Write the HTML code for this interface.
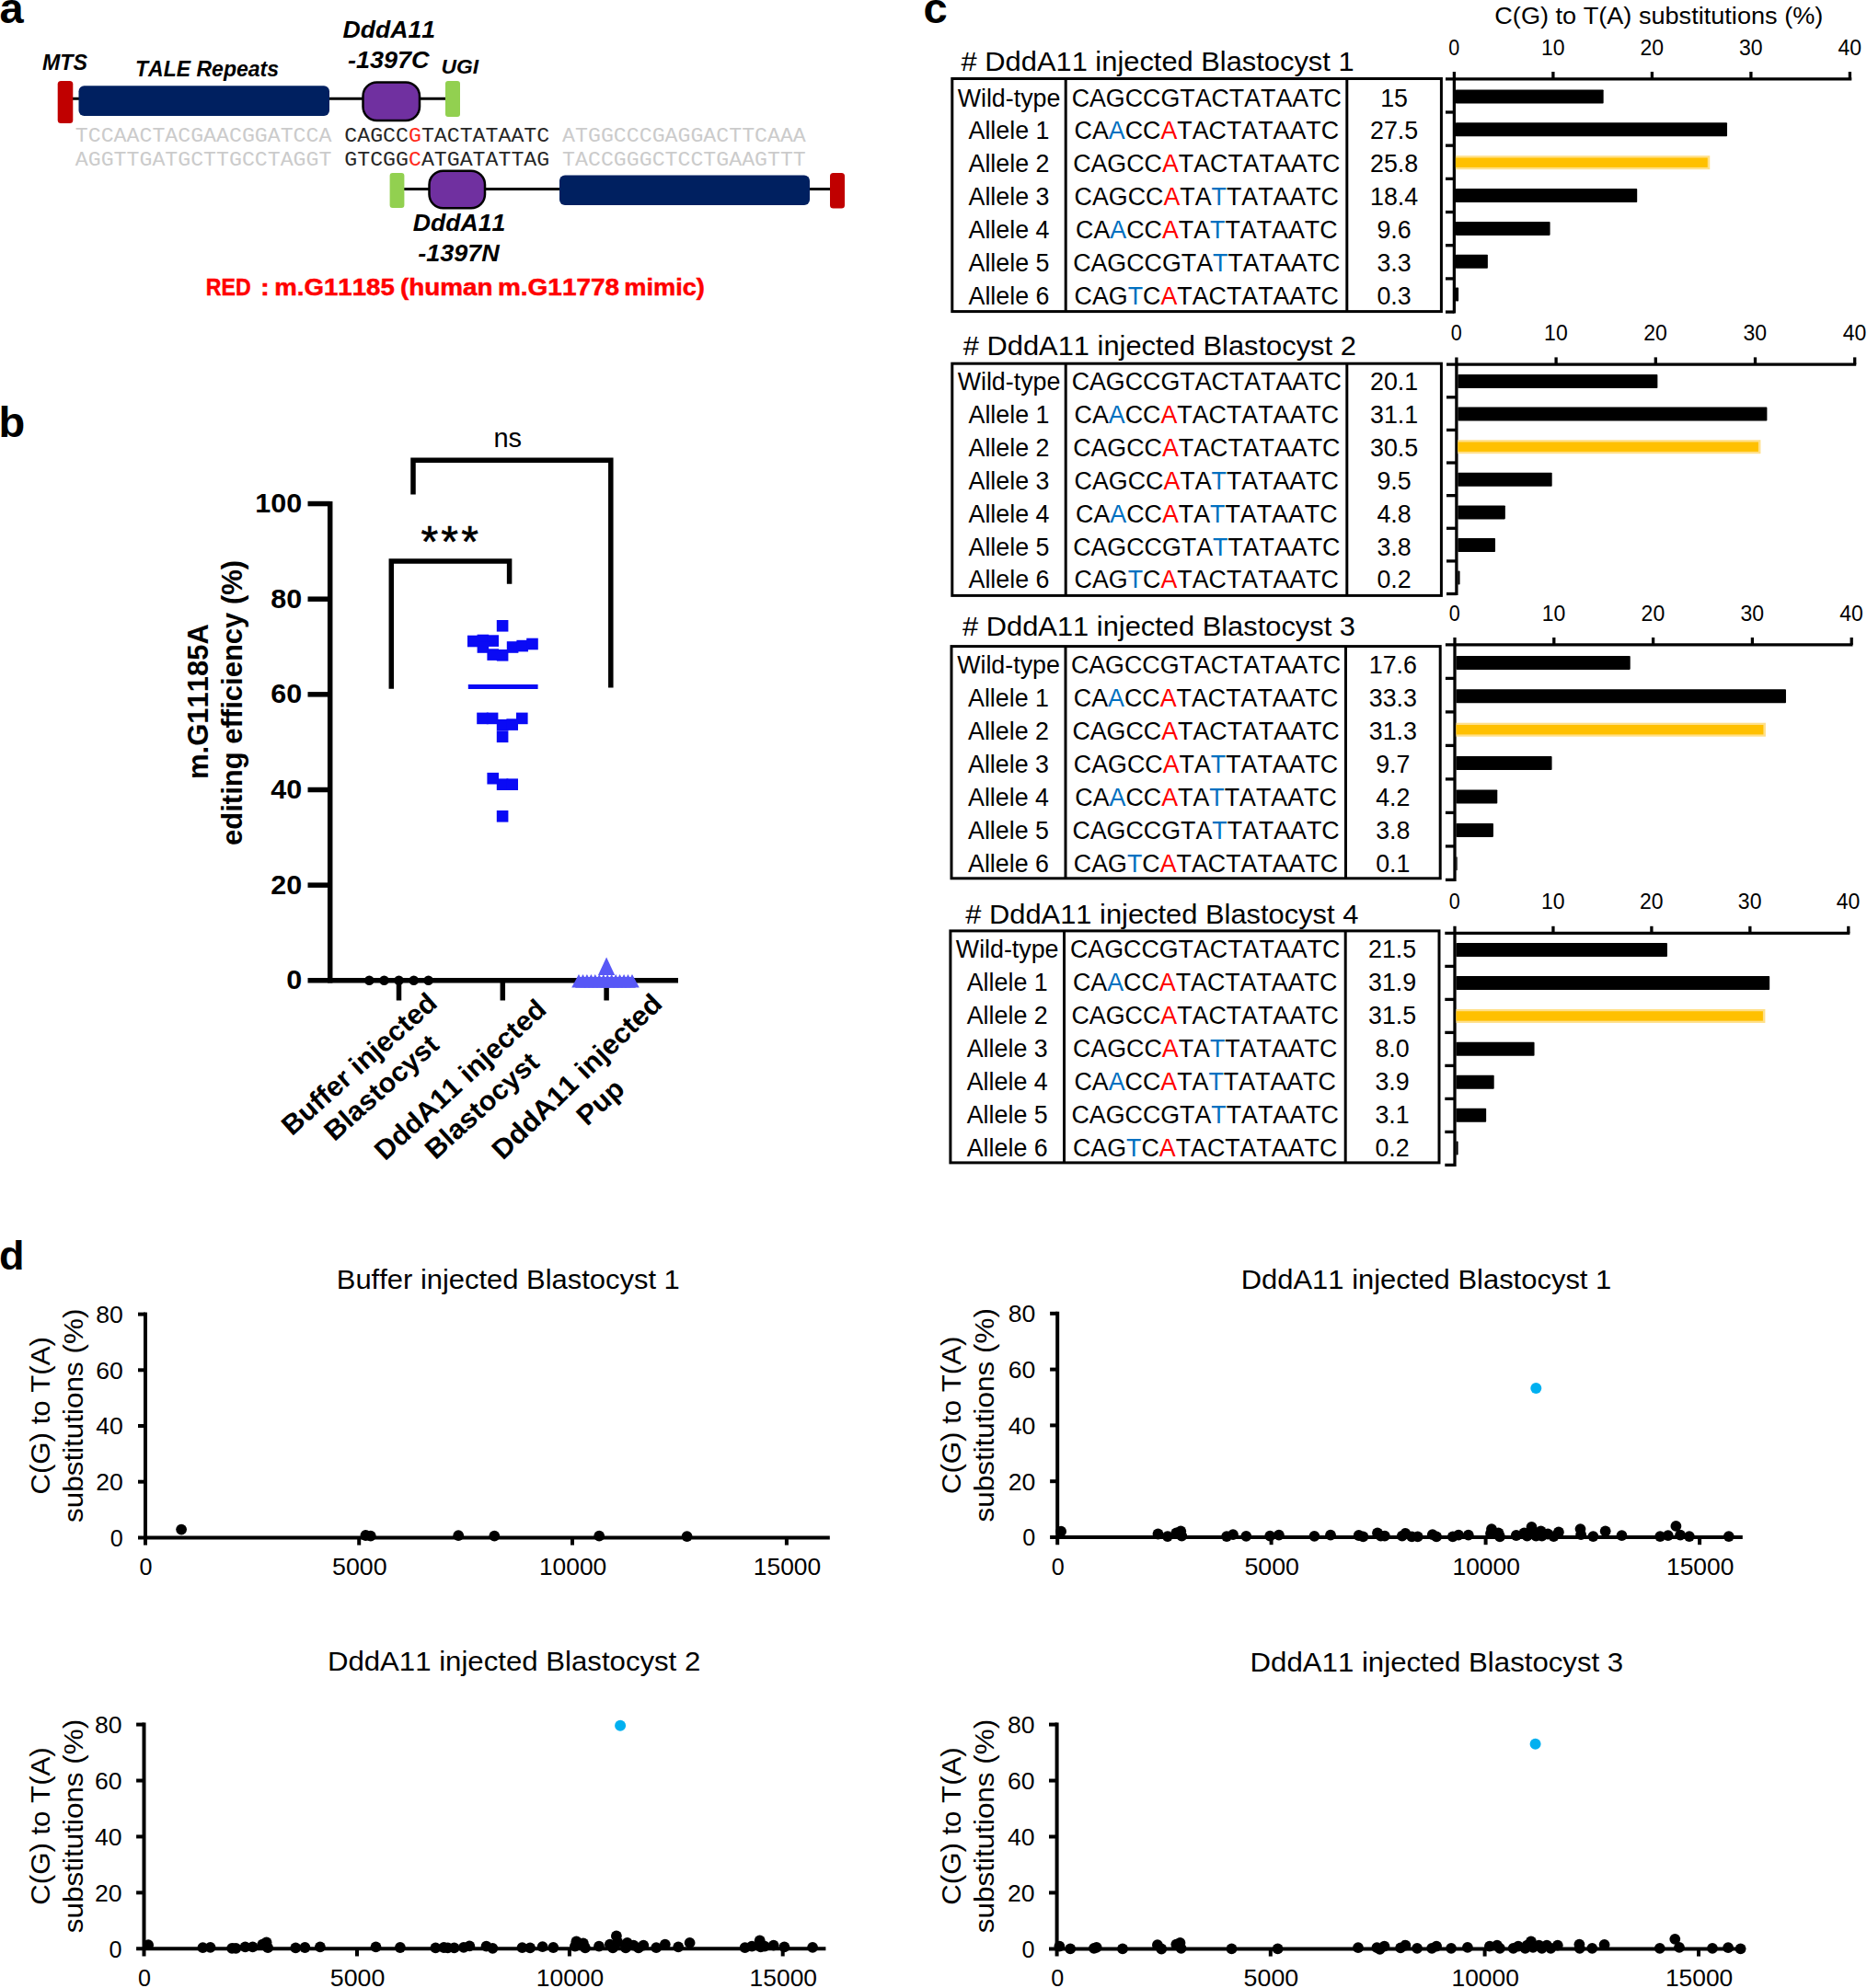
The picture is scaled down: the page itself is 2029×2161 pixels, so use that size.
<!DOCTYPE html>
<html lang="en">
<head>
<meta charset="utf-8">
<title>Figure</title>
<style>
html, body { margin: 0; padding: 0; background: #ffffff; }
svg { display: block; }
text { font-family: "Liberation Sans", sans-serif; font-kerning: none; }
.mono text { font-family: "Liberation Mono", monospace; }
</style>
</head>
<body>
<svg width="2029" height="2161" viewBox="0 0 2029 2161">
<rect x="0" y="0" width="2029" height="2161" fill="#ffffff"/>
<g font-weight="bold" font-size="47">
<text x="-0.50" y="25.20" font-size="47">a</text>
<text x="-1.50" y="475.20" font-size="47">b</text>
<text x="1003.50" y="25.20" font-size="47">c</text>
<text x="-1.00" y="1380.30" font-size="45">d</text>
</g>
<g id="panel-a">
<line x1="79.00" y1="107.20" x2="485.00" y2="107.20" stroke="#000" stroke-width="3.0"/>
<rect x="62.70" y="88.00" width="16.60" height="46.00" fill="#C00000" rx="3.5"/>
<rect x="85.50" y="93.20" width="272.50" height="32.80" fill="#002060" rx="6"/>
<rect x="394.50" y="89.50" width="61.50" height="41.50" fill="#7030A0" rx="15" stroke="#000" stroke-width="2.5"/>
<rect x="484.00" y="88.00" width="16.00" height="39.00" fill="#92D050" rx="3"/>
<line x1="439.00" y1="205.60" x2="903.00" y2="205.60" stroke="#000" stroke-width="3.0"/>
<rect x="423.60" y="188.00" width="15.80" height="38.00" fill="#92D050" rx="3"/>
<rect x="466.50" y="185.80" width="60.50" height="40.50" fill="#7030A0" rx="15" stroke="#000" stroke-width="2.5"/>
<rect x="608.00" y="190.50" width="272.00" height="32.50" fill="#002060" rx="6"/>
<rect x="902.00" y="188.00" width="16.00" height="38.50" fill="#C00000" rx="3.5"/>
<g font-weight="bold" font-style="italic">
<text x="46.00" y="76.10" font-size="23.2">MTS</text>
<text x="147.00" y="83.00" font-size="23.2" textLength="156.00" lengthAdjust="spacingAndGlyphs">TALE Repeats</text>
<text x="422.80" y="40.80" font-size="26.6" text-anchor="middle" textLength="100.50" lengthAdjust="spacingAndGlyphs">DddA11</text>
<text x="422.30" y="74.00" font-size="26.6" text-anchor="middle" textLength="88.50" lengthAdjust="spacingAndGlyphs">-1397C</text>
<text x="479.50" y="79.70" font-size="22.8">UGI</text>
<text x="499.00" y="251.30" font-size="26.6" text-anchor="middle" textLength="100.50" lengthAdjust="spacingAndGlyphs">DddA11</text>
<text x="498.50" y="284.40" font-size="26.6" text-anchor="middle" textLength="88.50" lengthAdjust="spacingAndGlyphs">-1397N</text>
</g>
<g class="mono">
<text x="81.80" y="154.00" font-size="22.6" fill="#cbcbcb" textLength="278.60" lengthAdjust="spacingAndGlyphs">TCCAACTACGAACGGATCCA</text>
<text x="374.33" y="154.00" font-size="22.6" fill="#262626" textLength="222.88" lengthAdjust="spacingAndGlyphs">CAGCC<tspan fill="#ff2a1a">G</tspan>TACTATAATC</text>
<text x="611.14" y="154.00" font-size="22.6" fill="#cbcbcb" textLength="264.67" lengthAdjust="spacingAndGlyphs">ATGGCCCGAGGACTTCAAA</text>
<text x="81.80" y="180.00" font-size="22.6" fill="#cbcbcb" textLength="278.60" lengthAdjust="spacingAndGlyphs">AGGTTGATGCTTGCCTAGGT</text>
<text x="374.33" y="180.00" font-size="22.6" fill="#262626" textLength="222.88" lengthAdjust="spacingAndGlyphs">GTCGG<tspan fill="#ff2a1a">C</tspan>ATGATATTAG</text>
<text x="611.14" y="180.00" font-size="22.6" fill="#cbcbcb" textLength="264.67" lengthAdjust="spacingAndGlyphs">TACCGGGCTCCTGAAGTTT</text>
</g>
<text y="320.8" font-size="25.8" font-weight="bold" fill="#FF0000" stroke="#FF0000" stroke-width="0.5"><tspan x="223.8" textLength="48.8" lengthAdjust="spacingAndGlyphs">RED</tspan> <tspan x="283.0" textLength="9.8" lengthAdjust="spacingAndGlyphs">:</tspan> <tspan x="298.3" textLength="130.5" lengthAdjust="spacingAndGlyphs">m.G11185</tspan> <tspan x="434.9" textLength="100.6" lengthAdjust="spacingAndGlyphs">(human</tspan> <tspan x="541.0" textLength="132.1" lengthAdjust="spacingAndGlyphs">m.G11778</tspan> <tspan x="678.2" textLength="87.7" lengthAdjust="spacingAndGlyphs">mimic)</tspan></text>
</g>
<g id="panel-b">
<line x1="358.70" y1="544.90" x2="358.70" y2="1068.55" stroke="#000" stroke-width="5.5"/>
<line x1="334.50" y1="1065.80" x2="737.00" y2="1065.80" stroke="#000" stroke-width="5.5"/>
<text transform="translate(328.2,1075.40) scale(1.045,1)" font-size="29.2" font-weight="bold" text-anchor="end">0</text>
<line x1="334.50" y1="962.15" x2="358.70" y2="962.15" stroke="#000" stroke-width="5.5"/>
<text transform="translate(328.2,971.75) scale(1.045,1)" font-size="29.2" font-weight="bold" text-anchor="end">20</text>
<line x1="334.50" y1="858.50" x2="358.70" y2="858.50" stroke="#000" stroke-width="5.5"/>
<text transform="translate(328.2,868.10) scale(1.045,1)" font-size="29.2" font-weight="bold" text-anchor="end">40</text>
<line x1="334.50" y1="754.85" x2="358.70" y2="754.85" stroke="#000" stroke-width="5.5"/>
<text transform="translate(328.2,764.45) scale(1.045,1)" font-size="29.2" font-weight="bold" text-anchor="end">60</text>
<line x1="334.50" y1="651.20" x2="358.70" y2="651.20" stroke="#000" stroke-width="5.5"/>
<text transform="translate(328.2,660.80) scale(1.045,1)" font-size="29.2" font-weight="bold" text-anchor="end">80</text>
<line x1="334.50" y1="547.55" x2="358.70" y2="547.55" stroke="#000" stroke-width="5.5"/>
<text transform="translate(328.2,557.15) scale(1.045,1)" font-size="29.2" font-weight="bold" text-anchor="end">100</text>
<line x1="433.50" y1="1065.80" x2="433.50" y2="1087.50" stroke="#000" stroke-width="5.5"/>
<line x1="546.30" y1="1065.80" x2="546.30" y2="1087.50" stroke="#000" stroke-width="5.5"/>
<line x1="659.10" y1="1065.80" x2="659.10" y2="1087.50" stroke="#000" stroke-width="5.5"/>
<path d="M449 537.5 V500.2 H663.8 V747.5" fill="none" stroke="#000" stroke-width="5.5"/>
<path d="M425.3 748.8 V610 H553.6 V634.8" fill="none" stroke="#000" stroke-width="5.5"/>
<text x="551.80" y="485.50" font-size="29" text-anchor="middle">ns</text>
<text x="490.30" y="605.30" font-size="48" text-anchor="middle" letter-spacing="3.2" stroke="#000" stroke-width="0.6">***</text>
<g font-weight="bold">
<text transform="translate(226.2,762.6) rotate(-90)" font-size="31" text-anchor="middle">m.G11185A</text>
<text transform="translate(262.9,763.9) rotate(-90)" font-size="31" text-anchor="middle">editing efficiency (%)</text>
</g>
<g fill="#0a0af5">
<rect x="539.8" y="674.0" width="12.6" height="12.6"/>
<rect x="508.0" y="690.7" width="12.6" height="12.6"/>
<rect x="518.6" y="689.7" width="12.6" height="12.6"/>
<rect x="529.4" y="690.3" width="12.6" height="12.6"/>
<rect x="518.6" y="697.2" width="12.6" height="12.6"/>
<rect x="529.4" y="705.3" width="12.6" height="12.6"/>
<rect x="539.8" y="706.0" width="12.6" height="12.6"/>
<rect x="550.8" y="697.2" width="12.6" height="12.6"/>
<rect x="561.4" y="695.8" width="12.6" height="12.6"/>
<rect x="572.2" y="693.7" width="12.6" height="12.6"/>
<rect x="518.2" y="774.6" width="12.6" height="12.6"/>
<rect x="528.8" y="774.6" width="12.6" height="12.6"/>
<rect x="561.0" y="774.6" width="12.6" height="12.6"/>
<rect x="539.8" y="781.9" width="12.6" height="12.6"/>
<rect x="550.4" y="781.3" width="12.6" height="12.6"/>
<rect x="539.8" y="794.5" width="12.6" height="12.6"/>
<rect x="529.4" y="839.9" width="12.6" height="12.6"/>
<rect x="539.8" y="846.4" width="12.6" height="12.6"/>
<rect x="550.4" y="846.4" width="12.6" height="12.6"/>
<rect x="539.8" y="881.0" width="12.6" height="12.6"/>
</g>
<line x1="508.80" y1="746.50" x2="584.60" y2="746.50" stroke="#0a0af5" stroke-width="5"/>
<circle cx="401.3" cy="1065.8" r="5.3" fill="#000"/>
<circle cx="417.5" cy="1065.8" r="5.3" fill="#000"/>
<circle cx="433.5" cy="1065.8" r="5.3" fill="#000"/>
<circle cx="449.7" cy="1065.8" r="5.3" fill="#000"/>
<circle cx="465.6" cy="1065.8" r="5.3" fill="#000"/>
<g fill="#5858f6">
<path d="M629.0 1059 L636.8 1073.4 L621.2 1073.4 Z"/>
<path d="M633.5 1059 L641.3 1073.4 L625.7 1073.4 Z"/>
<path d="M637.9 1059 L645.7 1073.4 L630.1 1073.4 Z"/>
<path d="M642.4 1059 L650.2 1073.4 L634.6 1073.4 Z"/>
<path d="M646.8 1059 L654.6 1073.4 L639.0 1073.4 Z"/>
<path d="M651.3 1059 L659.1 1073.4 L643.5 1073.4 Z"/>
<path d="M655.8 1059 L663.6 1073.4 L648.0 1073.4 Z"/>
<path d="M660.2 1059 L668.0 1073.4 L652.4 1073.4 Z"/>
<path d="M664.7 1059 L672.5 1073.4 L656.9 1073.4 Z"/>
<path d="M669.2 1059 L677.0 1073.4 L661.4 1073.4 Z"/>
<path d="M673.6 1059 L681.4 1073.4 L665.8 1073.4 Z"/>
<path d="M678.1 1059 L685.9 1073.4 L670.3 1073.4 Z"/>
<path d="M682.5 1059 L690.3 1073.4 L674.7 1073.4 Z"/>
<path d="M687.0 1059 L694.8 1073.4 L679.2 1073.4 Z"/>
<path d="M625 1073.4 L691 1073.4 L688.5 1062 L627.5 1062 Z"/>
<path d="M659.1 1040.4 L668.2 1060 L650.0 1060 Z"/>
</g>
<g font-weight="bold" font-size="30" text-anchor="end">
<text transform="translate(477.0,1092.7) rotate(-41.8) scale(1.02,1)">Buffer injected</text>
<text transform="translate(478.9,1138.3) rotate(-41.8) scale(1.02,1)">Blastocyst</text>
<text transform="translate(595.5,1099.5) rotate(-42.7) scale(1.025,1)">DddA11 injected</text>
<text transform="translate(587.7,1157.3) rotate(-42.3) scale(1.02,1)">Blastocyst</text>
<text transform="translate(721.3,1093.0) rotate(-44.0) scale(1.035,1)">DddA11 injected</text>
<text transform="translate(680.5,1186) rotate(-42.5) scale(1.02,1)">Pup</text>
</g>
</g>
<g id="panel-c">
<text x="1802.80" y="25.90" font-size="25.6" text-anchor="middle" textLength="357.00" lengthAdjust="spacingAndGlyphs">C(G) to T(A) substitutions (%)</text>
<text x="1044.60" y="76.50" font-size="29.8" textLength="427.00" lengthAdjust="spacingAndGlyphs"># DddA11 injected Blastocyst 1</text>
<rect x="1034.80" y="85.50" width="531.60" height="253.10" fill="none" stroke="#000" stroke-width="3"/>
<line x1="1158.20" y1="85.50" x2="1158.20" y2="338.60" stroke="#000" stroke-width="3"/>
<line x1="1463.80" y1="85.50" x2="1463.80" y2="338.60" stroke="#000" stroke-width="3"/>
<text x="1096.50" y="115.50" font-size="26.8" text-anchor="middle">Wild-type</text>
<text x="1311.30" y="115.50" font-size="26.8" text-anchor="middle">CAGCCGTACTATAATC</text>
<text x="1515.10" y="115.50" font-size="26.8" text-anchor="middle">15</text>
<text x="1096.50" y="151.47" font-size="26.8" text-anchor="middle">Allele 1</text>
<text x="1311.30" y="151.47" font-size="26.8" text-anchor="middle">CA<tspan fill="#0070C0">A</tspan>CC<tspan fill="#FF0000">A</tspan>TACTATAATC</text>
<text x="1515.10" y="151.47" font-size="26.8" text-anchor="middle">27.5</text>
<text x="1096.50" y="187.44" font-size="26.8" text-anchor="middle">Allele 2</text>
<text x="1311.30" y="187.44" font-size="26.8" text-anchor="middle">CAGCC<tspan fill="#FF0000">A</tspan>TACTATAATC</text>
<text x="1515.10" y="187.44" font-size="26.8" text-anchor="middle">25.8</text>
<text x="1096.50" y="223.41" font-size="26.8" text-anchor="middle">Allele 3</text>
<text x="1311.30" y="223.41" font-size="26.8" text-anchor="middle">CAGCC<tspan fill="#FF0000">A</tspan>TA<tspan fill="#0070C0">T</tspan>TATAATC</text>
<text x="1515.10" y="223.41" font-size="26.8" text-anchor="middle">18.4</text>
<text x="1096.50" y="259.38" font-size="26.8" text-anchor="middle">Allele 4</text>
<text x="1311.30" y="259.38" font-size="26.8" text-anchor="middle">CA<tspan fill="#0070C0">A</tspan>CC<tspan fill="#FF0000">A</tspan>TA<tspan fill="#0070C0">T</tspan>TATAATC</text>
<text x="1515.10" y="259.38" font-size="26.8" text-anchor="middle">9.6</text>
<text x="1096.50" y="295.35" font-size="26.8" text-anchor="middle">Allele 5</text>
<text x="1311.30" y="295.35" font-size="26.8" text-anchor="middle">CAGCCGTA<tspan fill="#0070C0">T</tspan>TATAATC</text>
<text x="1515.10" y="295.35" font-size="26.8" text-anchor="middle">3.3</text>
<text x="1096.50" y="331.32" font-size="26.8" text-anchor="middle">Allele 6</text>
<text x="1311.30" y="331.32" font-size="26.8" text-anchor="middle">CAG<tspan fill="#0070C0">T</tspan>C<tspan fill="#FF0000">A</tspan>TACTATAATC</text>
<text x="1515.10" y="331.32" font-size="26.8" text-anchor="middle">0.3</text>
<line x1="1571.00" y1="85.80" x2="2012.30" y2="85.80" stroke="#000" stroke-width="3.3"/>
<line x1="1580.40" y1="78.00" x2="1580.40" y2="340.60" stroke="#000" stroke-width="3.3"/>
<line x1="1571.00" y1="121.99" x2="1580.40" y2="121.99" stroke="#000" stroke-width="3.3"/>
<line x1="1571.00" y1="158.17" x2="1580.40" y2="158.17" stroke="#000" stroke-width="3.3"/>
<line x1="1571.00" y1="194.36" x2="1580.40" y2="194.36" stroke="#000" stroke-width="3.3"/>
<line x1="1571.00" y1="230.54" x2="1580.40" y2="230.54" stroke="#000" stroke-width="3.3"/>
<line x1="1571.00" y1="266.73" x2="1580.40" y2="266.73" stroke="#000" stroke-width="3.3"/>
<line x1="1571.00" y1="302.91" x2="1580.40" y2="302.91" stroke="#000" stroke-width="3.3"/>
<line x1="1571.00" y1="339.10" x2="1580.40" y2="339.10" stroke="#000" stroke-width="3.3"/>
<text x="1574.20" y="59.90" font-size="23.4" textLength="12.00" lengthAdjust="spacingAndGlyphs">0</text>
<line x1="1687.90" y1="78.00" x2="1687.90" y2="85.80" stroke="#000" stroke-width="3.3"/>
<text x="1674.90" y="59.90" font-size="23.4" textLength="25.60" lengthAdjust="spacingAndGlyphs">10</text>
<line x1="1795.40" y1="78.00" x2="1795.40" y2="85.80" stroke="#000" stroke-width="3.3"/>
<text x="1782.40" y="59.90" font-size="23.4" textLength="25.60" lengthAdjust="spacingAndGlyphs">20</text>
<line x1="1902.90" y1="78.00" x2="1902.90" y2="85.80" stroke="#000" stroke-width="3.3"/>
<text x="1889.90" y="59.90" font-size="23.4" textLength="25.60" lengthAdjust="spacingAndGlyphs">30</text>
<line x1="2010.40" y1="78.00" x2="2010.40" y2="85.80" stroke="#000" stroke-width="3.3"/>
<text x="1997.40" y="59.90" font-size="23.4" textLength="25.60" lengthAdjust="spacingAndGlyphs">40</text>
<rect x="1581.90" y="97.50" width="160.75" height="15.00" fill="#000" rx="0.8"/>
<rect x="1581.90" y="133.35" width="295.12" height="15.00" fill="#000" rx="0.8"/>
<rect x="1581.90" y="169.20" width="276.35" height="15.00" fill="#FFE08A"/>
<rect x="1581.90" y="171.50" width="273.85" height="10.40" fill="#FFC000"/>
<rect x="1581.90" y="205.05" width="197.30" height="15.00" fill="#000" rx="0.8"/>
<rect x="1581.90" y="240.90" width="102.70" height="15.00" fill="#000" rx="0.8"/>
<rect x="1581.90" y="276.75" width="34.98" height="15.00" fill="#000" rx="0.8"/>
<rect x="1581.90" y="312.60" width="3.23" height="15.00" fill="#000" rx="0.8"/>
<text x="1046.80" y="386.00" font-size="29.8" textLength="427.00" lengthAdjust="spacingAndGlyphs"># DddA11 injected Blastocyst 2</text>
<rect x="1034.80" y="395.20" width="531.60" height="252.20" fill="none" stroke="#000" stroke-width="3"/>
<line x1="1158.20" y1="395.20" x2="1158.20" y2="647.40" stroke="#000" stroke-width="3"/>
<line x1="1463.80" y1="395.20" x2="1463.80" y2="647.40" stroke="#000" stroke-width="3"/>
<text x="1096.50" y="424.20" font-size="26.8" text-anchor="middle">Wild-type</text>
<text x="1311.30" y="424.20" font-size="26.8" text-anchor="middle">CAGCCGTACTATAATC</text>
<text x="1515.10" y="424.20" font-size="26.8" text-anchor="middle">20.1</text>
<text x="1096.50" y="460.07" font-size="26.8" text-anchor="middle">Allele 1</text>
<text x="1311.30" y="460.07" font-size="26.8" text-anchor="middle">CA<tspan fill="#0070C0">A</tspan>CC<tspan fill="#FF0000">A</tspan>TACTATAATC</text>
<text x="1515.10" y="460.07" font-size="26.8" text-anchor="middle">31.1</text>
<text x="1096.50" y="495.94" font-size="26.8" text-anchor="middle">Allele 2</text>
<text x="1311.30" y="495.94" font-size="26.8" text-anchor="middle">CAGCC<tspan fill="#FF0000">A</tspan>TACTATAATC</text>
<text x="1515.10" y="495.94" font-size="26.8" text-anchor="middle">30.5</text>
<text x="1096.50" y="531.81" font-size="26.8" text-anchor="middle">Allele 3</text>
<text x="1311.30" y="531.81" font-size="26.8" text-anchor="middle">CAGCC<tspan fill="#FF0000">A</tspan>TA<tspan fill="#0070C0">T</tspan>TATAATC</text>
<text x="1515.10" y="531.81" font-size="26.8" text-anchor="middle">9.5</text>
<text x="1096.50" y="567.68" font-size="26.8" text-anchor="middle">Allele 4</text>
<text x="1311.30" y="567.68" font-size="26.8" text-anchor="middle">CA<tspan fill="#0070C0">A</tspan>CC<tspan fill="#FF0000">A</tspan>TA<tspan fill="#0070C0">T</tspan>TATAATC</text>
<text x="1515.10" y="567.68" font-size="26.8" text-anchor="middle">4.8</text>
<text x="1096.50" y="603.55" font-size="26.8" text-anchor="middle">Allele 5</text>
<text x="1311.30" y="603.55" font-size="26.8" text-anchor="middle">CAGCCGTA<tspan fill="#0070C0">T</tspan>TATAATC</text>
<text x="1515.10" y="603.55" font-size="26.8" text-anchor="middle">3.8</text>
<text x="1096.50" y="639.42" font-size="26.8" text-anchor="middle">Allele 6</text>
<text x="1311.30" y="639.42" font-size="26.8" text-anchor="middle">CAG<tspan fill="#0070C0">T</tspan>C<tspan fill="#FF0000">A</tspan>TACTATAATC</text>
<text x="1515.10" y="639.42" font-size="26.8" text-anchor="middle">0.2</text>
<line x1="1572.00" y1="396.20" x2="2017.20" y2="396.20" stroke="#000" stroke-width="3.3"/>
<line x1="1582.90" y1="388.40" x2="1582.90" y2="647.00" stroke="#000" stroke-width="3.3"/>
<line x1="1572.00" y1="431.81" x2="1582.90" y2="431.81" stroke="#000" stroke-width="3.3"/>
<line x1="1572.00" y1="467.43" x2="1582.90" y2="467.43" stroke="#000" stroke-width="3.3"/>
<line x1="1572.00" y1="503.04" x2="1582.90" y2="503.04" stroke="#000" stroke-width="3.3"/>
<line x1="1572.00" y1="538.66" x2="1582.90" y2="538.66" stroke="#000" stroke-width="3.3"/>
<line x1="1572.00" y1="574.27" x2="1582.90" y2="574.27" stroke="#000" stroke-width="3.3"/>
<line x1="1572.00" y1="609.89" x2="1582.90" y2="609.89" stroke="#000" stroke-width="3.3"/>
<line x1="1572.00" y1="645.50" x2="1582.90" y2="645.50" stroke="#000" stroke-width="3.3"/>
<text x="1576.70" y="370.00" font-size="23.4" textLength="12.00" lengthAdjust="spacingAndGlyphs">0</text>
<line x1="1691.10" y1="388.40" x2="1691.10" y2="396.20" stroke="#000" stroke-width="3.3"/>
<text x="1678.10" y="370.00" font-size="23.4" textLength="25.60" lengthAdjust="spacingAndGlyphs">10</text>
<line x1="1799.30" y1="388.40" x2="1799.30" y2="396.20" stroke="#000" stroke-width="3.3"/>
<text x="1786.30" y="370.00" font-size="23.4" textLength="25.60" lengthAdjust="spacingAndGlyphs">20</text>
<line x1="1907.50" y1="388.40" x2="1907.50" y2="396.20" stroke="#000" stroke-width="3.3"/>
<text x="1894.50" y="370.00" font-size="23.4" textLength="25.60" lengthAdjust="spacingAndGlyphs">30</text>
<line x1="2015.70" y1="388.40" x2="2015.70" y2="396.20" stroke="#000" stroke-width="3.3"/>
<text x="2002.70" y="370.00" font-size="23.4" textLength="25.60" lengthAdjust="spacingAndGlyphs">40</text>
<rect x="1584.40" y="407.00" width="216.98" height="15.00" fill="#000" rx="0.8"/>
<rect x="1584.40" y="442.60" width="336.00" height="15.00" fill="#000" rx="0.8"/>
<rect x="1584.40" y="478.20" width="329.01" height="15.00" fill="#FFE08A"/>
<rect x="1584.40" y="480.50" width="326.51" height="10.40" fill="#FFC000"/>
<rect x="1584.40" y="513.80" width="102.29" height="15.00" fill="#000" rx="0.8"/>
<rect x="1584.40" y="549.40" width="51.44" height="15.00" fill="#000" rx="0.8"/>
<rect x="1584.40" y="585.00" width="40.62" height="15.00" fill="#000" rx="0.8"/>
<rect x="1584.40" y="620.60" width="2.16" height="15.00" fill="#000" rx="0.8"/>
<text x="1046.00" y="691.40" font-size="29.8" textLength="427.00" lengthAdjust="spacingAndGlyphs"># DddA11 injected Blastocyst 3</text>
<rect x="1034.00" y="702.60" width="531.20" height="252.20" fill="none" stroke="#000" stroke-width="3"/>
<line x1="1158.00" y1="702.60" x2="1158.00" y2="954.80" stroke="#000" stroke-width="3"/>
<line x1="1462.50" y1="702.60" x2="1462.50" y2="954.80" stroke="#000" stroke-width="3"/>
<text x="1096.00" y="732.20" font-size="26.8" text-anchor="middle">Wild-type</text>
<text x="1310.55" y="732.20" font-size="26.8" text-anchor="middle">CAGCCGTACTATAATC</text>
<text x="1513.85" y="732.20" font-size="26.8" text-anchor="middle">17.6</text>
<text x="1096.00" y="768.10" font-size="26.8" text-anchor="middle">Allele 1</text>
<text x="1310.55" y="768.10" font-size="26.8" text-anchor="middle">CA<tspan fill="#0070C0">A</tspan>CC<tspan fill="#FF0000">A</tspan>TACTATAATC</text>
<text x="1513.85" y="768.10" font-size="26.8" text-anchor="middle">33.3</text>
<text x="1096.00" y="804.00" font-size="26.8" text-anchor="middle">Allele 2</text>
<text x="1310.55" y="804.00" font-size="26.8" text-anchor="middle">CAGCC<tspan fill="#FF0000">A</tspan>TACTATAATC</text>
<text x="1513.85" y="804.00" font-size="26.8" text-anchor="middle">31.3</text>
<text x="1096.00" y="839.90" font-size="26.8" text-anchor="middle">Allele 3</text>
<text x="1310.55" y="839.90" font-size="26.8" text-anchor="middle">CAGCC<tspan fill="#FF0000">A</tspan>TA<tspan fill="#0070C0">T</tspan>TATAATC</text>
<text x="1513.85" y="839.90" font-size="26.8" text-anchor="middle">9.7</text>
<text x="1096.00" y="875.80" font-size="26.8" text-anchor="middle">Allele 4</text>
<text x="1310.55" y="875.80" font-size="26.8" text-anchor="middle">CA<tspan fill="#0070C0">A</tspan>CC<tspan fill="#FF0000">A</tspan>TA<tspan fill="#0070C0">T</tspan>TATAATC</text>
<text x="1513.85" y="875.80" font-size="26.8" text-anchor="middle">4.2</text>
<text x="1096.00" y="911.70" font-size="26.8" text-anchor="middle">Allele 5</text>
<text x="1310.55" y="911.70" font-size="26.8" text-anchor="middle">CAGCCGTA<tspan fill="#0070C0">T</tspan>TATAATC</text>
<text x="1513.85" y="911.70" font-size="26.8" text-anchor="middle">3.8</text>
<text x="1096.00" y="947.60" font-size="26.8" text-anchor="middle">Allele 6</text>
<text x="1310.55" y="947.60" font-size="26.8" text-anchor="middle">CAG<tspan fill="#0070C0">T</tspan>C<tspan fill="#FF0000">A</tspan>TACTATAATC</text>
<text x="1513.85" y="947.60" font-size="26.8" text-anchor="middle">0.1</text>
<line x1="1570.90" y1="700.90" x2="2013.50" y2="700.90" stroke="#000" stroke-width="3.3"/>
<line x1="1581.00" y1="693.00" x2="1581.00" y2="957.90" stroke="#000" stroke-width="3.3"/>
<line x1="1570.90" y1="737.40" x2="1581.00" y2="737.40" stroke="#000" stroke-width="3.3"/>
<line x1="1570.90" y1="773.90" x2="1581.00" y2="773.90" stroke="#000" stroke-width="3.3"/>
<line x1="1570.90" y1="810.40" x2="1581.00" y2="810.40" stroke="#000" stroke-width="3.3"/>
<line x1="1570.90" y1="846.90" x2="1581.00" y2="846.90" stroke="#000" stroke-width="3.3"/>
<line x1="1570.90" y1="883.40" x2="1581.00" y2="883.40" stroke="#000" stroke-width="3.3"/>
<line x1="1570.90" y1="919.90" x2="1581.00" y2="919.90" stroke="#000" stroke-width="3.3"/>
<line x1="1570.90" y1="956.40" x2="1581.00" y2="956.40" stroke="#000" stroke-width="3.3"/>
<text x="1574.80" y="674.60" font-size="23.4" textLength="12.00" lengthAdjust="spacingAndGlyphs">0</text>
<line x1="1688.80" y1="693.00" x2="1688.80" y2="700.90" stroke="#000" stroke-width="3.3"/>
<text x="1675.80" y="674.60" font-size="23.4" textLength="25.60" lengthAdjust="spacingAndGlyphs">10</text>
<line x1="1796.60" y1="693.00" x2="1796.60" y2="700.90" stroke="#000" stroke-width="3.3"/>
<text x="1783.60" y="674.60" font-size="23.4" textLength="25.60" lengthAdjust="spacingAndGlyphs">20</text>
<line x1="1904.40" y1="693.00" x2="1904.40" y2="700.90" stroke="#000" stroke-width="3.3"/>
<text x="1891.40" y="674.60" font-size="23.4" textLength="25.60" lengthAdjust="spacingAndGlyphs">30</text>
<line x1="2012.20" y1="693.00" x2="2012.20" y2="700.90" stroke="#000" stroke-width="3.3"/>
<text x="1999.20" y="674.60" font-size="23.4" textLength="25.60" lengthAdjust="spacingAndGlyphs">40</text>
<rect x="1582.50" y="712.90" width="189.23" height="15.00" fill="#000" rx="0.8"/>
<rect x="1582.50" y="749.30" width="358.47" height="15.00" fill="#000" rx="0.8"/>
<rect x="1582.50" y="785.70" width="336.41" height="15.00" fill="#FFE08A"/>
<rect x="1582.50" y="788.00" width="333.91" height="10.40" fill="#FFC000"/>
<rect x="1582.50" y="822.10" width="104.07" height="15.00" fill="#000" rx="0.8"/>
<rect x="1582.50" y="858.50" width="44.78" height="15.00" fill="#000" rx="0.8"/>
<rect x="1582.50" y="894.90" width="40.46" height="15.00" fill="#000" rx="0.8"/>
<rect x="1582.50" y="931.30" width="1.20" height="15.00" fill="#000" rx="0.8"/>
<text x="1049.30" y="1003.60" font-size="29.8" textLength="427.00" lengthAdjust="spacingAndGlyphs"># DddA11 injected Blastocyst 4</text>
<rect x="1032.90" y="1011.90" width="531.10" height="252.00" fill="none" stroke="#000" stroke-width="3"/>
<line x1="1156.50" y1="1011.90" x2="1156.50" y2="1263.90" stroke="#000" stroke-width="3"/>
<line x1="1462.20" y1="1011.90" x2="1462.20" y2="1263.90" stroke="#000" stroke-width="3"/>
<text x="1094.70" y="1041.20" font-size="26.8" text-anchor="middle">Wild-type</text>
<text x="1309.65" y="1041.20" font-size="26.8" text-anchor="middle">CAGCCGTACTATAATC</text>
<text x="1513.10" y="1041.20" font-size="26.8" text-anchor="middle">21.5</text>
<text x="1094.70" y="1077.10" font-size="26.8" text-anchor="middle">Allele 1</text>
<text x="1309.65" y="1077.10" font-size="26.8" text-anchor="middle">CA<tspan fill="#0070C0">A</tspan>CC<tspan fill="#FF0000">A</tspan>TACTATAATC</text>
<text x="1513.10" y="1077.10" font-size="26.8" text-anchor="middle">31.9</text>
<text x="1094.70" y="1113.00" font-size="26.8" text-anchor="middle">Allele 2</text>
<text x="1309.65" y="1113.00" font-size="26.8" text-anchor="middle">CAGCC<tspan fill="#FF0000">A</tspan>TACTATAATC</text>
<text x="1513.10" y="1113.00" font-size="26.8" text-anchor="middle">31.5</text>
<text x="1094.70" y="1148.90" font-size="26.8" text-anchor="middle">Allele 3</text>
<text x="1309.65" y="1148.90" font-size="26.8" text-anchor="middle">CAGCC<tspan fill="#FF0000">A</tspan>TA<tspan fill="#0070C0">T</tspan>TATAATC</text>
<text x="1513.10" y="1148.90" font-size="26.8" text-anchor="middle">8.0</text>
<text x="1094.70" y="1184.80" font-size="26.8" text-anchor="middle">Allele 4</text>
<text x="1309.65" y="1184.80" font-size="26.8" text-anchor="middle">CA<tspan fill="#0070C0">A</tspan>CC<tspan fill="#FF0000">A</tspan>TA<tspan fill="#0070C0">T</tspan>TATAATC</text>
<text x="1513.10" y="1184.80" font-size="26.8" text-anchor="middle">3.9</text>
<text x="1094.70" y="1220.70" font-size="26.8" text-anchor="middle">Allele 5</text>
<text x="1309.65" y="1220.70" font-size="26.8" text-anchor="middle">CAGCCGTA<tspan fill="#0070C0">T</tspan>TATAATC</text>
<text x="1513.10" y="1220.70" font-size="26.8" text-anchor="middle">3.1</text>
<text x="1094.70" y="1256.60" font-size="26.8" text-anchor="middle">Allele 6</text>
<text x="1309.65" y="1256.60" font-size="26.8" text-anchor="middle">CAG<tspan fill="#0070C0">T</tspan>C<tspan fill="#FF0000">A</tspan>TACTATAATC</text>
<text x="1513.10" y="1256.60" font-size="26.8" text-anchor="middle">0.2</text>
<line x1="1570.30" y1="1014.40" x2="2010.30" y2="1014.40" stroke="#000" stroke-width="3.3"/>
<line x1="1581.00" y1="1006.80" x2="1581.00" y2="1267.90" stroke="#000" stroke-width="3.3"/>
<line x1="1570.30" y1="1050.40" x2="1581.00" y2="1050.40" stroke="#000" stroke-width="3.3"/>
<line x1="1570.30" y1="1086.40" x2="1581.00" y2="1086.40" stroke="#000" stroke-width="3.3"/>
<line x1="1570.30" y1="1122.40" x2="1581.00" y2="1122.40" stroke="#000" stroke-width="3.3"/>
<line x1="1570.30" y1="1158.40" x2="1581.00" y2="1158.40" stroke="#000" stroke-width="3.3"/>
<line x1="1570.30" y1="1194.40" x2="1581.00" y2="1194.40" stroke="#000" stroke-width="3.3"/>
<line x1="1570.30" y1="1230.40" x2="1581.00" y2="1230.40" stroke="#000" stroke-width="3.3"/>
<line x1="1570.30" y1="1266.40" x2="1581.00" y2="1266.40" stroke="#000" stroke-width="3.3"/>
<text x="1574.80" y="987.80" font-size="23.4" textLength="12.00" lengthAdjust="spacingAndGlyphs">0</text>
<line x1="1687.95" y1="1006.80" x2="1687.95" y2="1014.40" stroke="#000" stroke-width="3.3"/>
<text x="1674.95" y="987.80" font-size="23.4" textLength="25.60" lengthAdjust="spacingAndGlyphs">10</text>
<line x1="1794.90" y1="1006.80" x2="1794.90" y2="1014.40" stroke="#000" stroke-width="3.3"/>
<text x="1781.90" y="987.80" font-size="23.4" textLength="25.60" lengthAdjust="spacingAndGlyphs">20</text>
<line x1="1901.85" y1="1006.80" x2="1901.85" y2="1014.40" stroke="#000" stroke-width="3.3"/>
<text x="1888.85" y="987.80" font-size="23.4" textLength="25.60" lengthAdjust="spacingAndGlyphs">30</text>
<line x1="2008.80" y1="1006.80" x2="2008.80" y2="1014.40" stroke="#000" stroke-width="3.3"/>
<text x="1995.80" y="987.80" font-size="23.4" textLength="25.60" lengthAdjust="spacingAndGlyphs">40</text>
<rect x="1582.50" y="1025.10" width="229.44" height="15.00" fill="#000" rx="0.8"/>
<rect x="1582.50" y="1061.02" width="340.67" height="15.00" fill="#000" rx="0.8"/>
<rect x="1582.50" y="1096.94" width="335.89" height="15.00" fill="#FFE08A"/>
<rect x="1582.50" y="1099.24" width="333.39" height="10.40" fill="#FFC000"/>
<rect x="1582.50" y="1132.86" width="85.06" height="15.00" fill="#000" rx="0.8"/>
<rect x="1582.50" y="1168.78" width="41.21" height="15.00" fill="#000" rx="0.8"/>
<rect x="1582.50" y="1204.70" width="32.65" height="15.00" fill="#000" rx="0.8"/>
<rect x="1582.50" y="1240.62" width="2.14" height="15.00" fill="#000" rx="0.8"/>
</g>
<g id="panel-d">
<text x="365.80" y="1400.60" font-size="30" textLength="373.00" lengthAdjust="spacingAndGlyphs">Buffer injected Blastocyst 1</text>
<line x1="158.00" y1="1426.60" x2="158.00" y2="1679.60" stroke="#000" stroke-width="4"/>
<line x1="150.00" y1="1671.40" x2="901.80" y2="1671.40" stroke="#000" stroke-width="4"/>
<text x="119.80" y="1680.80" font-size="26.4" textLength="14.00" lengthAdjust="spacingAndGlyphs">0</text>
<line x1="150.00" y1="1610.70" x2="158.00" y2="1610.70" stroke="#000" stroke-width="4"/>
<text x="104.20" y="1620.10" font-size="26.4" textLength="29.60" lengthAdjust="spacingAndGlyphs">20</text>
<line x1="150.00" y1="1550.00" x2="158.00" y2="1550.00" stroke="#000" stroke-width="4"/>
<text x="104.20" y="1559.40" font-size="26.4" textLength="29.60" lengthAdjust="spacingAndGlyphs">40</text>
<line x1="150.00" y1="1489.30" x2="158.00" y2="1489.30" stroke="#000" stroke-width="4"/>
<text x="104.20" y="1498.70" font-size="26.4" textLength="29.60" lengthAdjust="spacingAndGlyphs">60</text>
<line x1="150.00" y1="1428.60" x2="158.00" y2="1428.60" stroke="#000" stroke-width="4"/>
<text x="104.20" y="1438.00" font-size="26.4" textLength="29.60" lengthAdjust="spacingAndGlyphs">80</text>
<text x="151.60" y="1712.20" font-size="26.4" textLength="14.00" lengthAdjust="spacingAndGlyphs">0</text>
<line x1="390.20" y1="1671.40" x2="390.20" y2="1679.60" stroke="#000" stroke-width="4"/>
<text x="361.00" y="1712.20" font-size="26.4" textLength="59.60" lengthAdjust="spacingAndGlyphs">5000</text>
<line x1="622.00" y1="1671.40" x2="622.00" y2="1679.60" stroke="#000" stroke-width="4"/>
<text x="585.90" y="1712.20" font-size="26.4" textLength="73.40" lengthAdjust="spacingAndGlyphs">10000</text>
<line x1="854.90" y1="1671.40" x2="854.90" y2="1679.60" stroke="#000" stroke-width="4"/>
<text x="818.80" y="1712.20" font-size="26.4" textLength="73.40" lengthAdjust="spacingAndGlyphs">15000</text>
<text transform="translate(54.199999999999996,1538.8) rotate(-90)" font-size="30" text-anchor="middle" textLength="171.5" lengthAdjust="spacingAndGlyphs">C(G) to T(A)</text>
<text transform="translate(90.0,1538.8) rotate(-90)" font-size="30" text-anchor="middle" textLength="232.5" lengthAdjust="spacingAndGlyphs">substitutions (%)</text>
<circle cx="197.1" cy="1662.6" r="5.9" fill="#000"/>
<circle cx="397.4" cy="1669.0" r="5.9" fill="#000"/>
<circle cx="402.8" cy="1669.6" r="5.9" fill="#000"/>
<circle cx="498.2" cy="1669.2" r="5.9" fill="#000"/>
<circle cx="537.3" cy="1669.7" r="5.9" fill="#000"/>
<circle cx="651.2" cy="1669.7" r="5.9" fill="#000"/>
<circle cx="746.6" cy="1670.1" r="5.9" fill="#000"/>
<text x="1348.70" y="1401.30" font-size="30" textLength="402.60" lengthAdjust="spacingAndGlyphs">DddA11 injected Blastocyst 1</text>
<line x1="1149.20" y1="1425.80" x2="1149.20" y2="1679.20" stroke="#000" stroke-width="4"/>
<line x1="1141.10" y1="1671.00" x2="1893.80" y2="1671.00" stroke="#000" stroke-width="4"/>
<text x="1111.30" y="1680.40" font-size="26.4" textLength="14.00" lengthAdjust="spacingAndGlyphs">0</text>
<line x1="1141.10" y1="1610.20" x2="1149.20" y2="1610.20" stroke="#000" stroke-width="4"/>
<text x="1095.70" y="1619.60" font-size="26.4" textLength="29.60" lengthAdjust="spacingAndGlyphs">20</text>
<line x1="1141.10" y1="1549.40" x2="1149.20" y2="1549.40" stroke="#000" stroke-width="4"/>
<text x="1095.70" y="1558.80" font-size="26.4" textLength="29.60" lengthAdjust="spacingAndGlyphs">40</text>
<line x1="1141.10" y1="1488.60" x2="1149.20" y2="1488.60" stroke="#000" stroke-width="4"/>
<text x="1095.70" y="1498.00" font-size="26.4" textLength="29.60" lengthAdjust="spacingAndGlyphs">60</text>
<line x1="1141.10" y1="1427.80" x2="1149.20" y2="1427.80" stroke="#000" stroke-width="4"/>
<text x="1095.70" y="1437.20" font-size="26.4" textLength="29.60" lengthAdjust="spacingAndGlyphs">80</text>
<text x="1142.80" y="1712.00" font-size="26.4" textLength="14.00" lengthAdjust="spacingAndGlyphs">0</text>
<line x1="1381.60" y1="1671.00" x2="1381.60" y2="1679.20" stroke="#000" stroke-width="4"/>
<text x="1352.40" y="1712.00" font-size="26.4" textLength="59.60" lengthAdjust="spacingAndGlyphs">5000</text>
<line x1="1614.60" y1="1671.00" x2="1614.60" y2="1679.20" stroke="#000" stroke-width="4"/>
<text x="1578.50" y="1712.00" font-size="26.4" textLength="73.40" lengthAdjust="spacingAndGlyphs">10000</text>
<line x1="1847.10" y1="1671.00" x2="1847.10" y2="1679.20" stroke="#000" stroke-width="4"/>
<text x="1811.00" y="1712.00" font-size="26.4" textLength="73.40" lengthAdjust="spacingAndGlyphs">15000</text>
<text transform="translate(1043.5,1538.3) rotate(-90)" font-size="30" text-anchor="middle" textLength="171.5" lengthAdjust="spacingAndGlyphs">C(G) to T(A)</text>
<text transform="translate(1079.8,1538.3) rotate(-90)" font-size="30" text-anchor="middle" textLength="232.5" lengthAdjust="spacingAndGlyphs">substitutions (%)</text>
<circle cx="1153.1" cy="1664.7" r="5.9" fill="#000"/>
<circle cx="1258.5" cy="1667.5" r="5.9" fill="#000"/>
<circle cx="1268.8" cy="1670.1" r="5.9" fill="#000"/>
<circle cx="1278.3" cy="1666.4" r="5.9" fill="#000"/>
<circle cx="1283.2" cy="1664.3" r="5.9" fill="#000"/>
<circle cx="1284.3" cy="1669.6" r="5.9" fill="#000"/>
<circle cx="1333.1" cy="1670.1" r="5.9" fill="#000"/>
<circle cx="1340.0" cy="1668.1" r="5.9" fill="#000"/>
<circle cx="1354.3" cy="1669.9" r="5.9" fill="#000"/>
<circle cx="1380.2" cy="1669.6" r="5.9" fill="#000"/>
<circle cx="1389.9" cy="1668.6" r="5.9" fill="#000"/>
<circle cx="1428.4" cy="1669.9" r="5.9" fill="#000"/>
<circle cx="1446.0" cy="1668.6" r="5.9" fill="#000"/>
<circle cx="1476.7" cy="1669.0" r="5.9" fill="#000"/>
<circle cx="1481.4" cy="1670.3" r="5.9" fill="#000"/>
<circle cx="1497.0" cy="1666.4" r="5.9" fill="#000"/>
<circle cx="1500.6" cy="1669.6" r="5.9" fill="#000"/>
<circle cx="1504.9" cy="1669.6" r="5.9" fill="#000"/>
<circle cx="1523.8" cy="1669.6" r="5.9" fill="#000"/>
<circle cx="1527.4" cy="1666.9" r="5.9" fill="#000"/>
<circle cx="1534.3" cy="1670.3" r="5.9" fill="#000"/>
<circle cx="1540.7" cy="1670.3" r="5.9" fill="#000"/>
<circle cx="1556.8" cy="1668.1" r="5.9" fill="#000"/>
<circle cx="1561.1" cy="1670.3" r="5.9" fill="#000"/>
<circle cx="1578.8" cy="1670.3" r="5.9" fill="#000"/>
<circle cx="1585.1" cy="1668.6" r="5.9" fill="#000"/>
<circle cx="1595.8" cy="1668.6" r="5.9" fill="#000"/>
<circle cx="1620.0" cy="1666.9" r="5.9" fill="#000"/>
<circle cx="1621.0" cy="1662.1" r="5.9" fill="#000"/>
<circle cx="1628.5" cy="1666.4" r="5.9" fill="#000"/>
<circle cx="1630.0" cy="1670.3" r="5.9" fill="#000"/>
<circle cx="1647.8" cy="1669.0" r="5.9" fill="#000"/>
<circle cx="1656.4" cy="1666.4" r="5.9" fill="#000"/>
<circle cx="1659.6" cy="1669.6" r="5.9" fill="#000"/>
<circle cx="1664.5" cy="1660.0" r="5.9" fill="#000"/>
<circle cx="1665.0" cy="1665.4" r="5.9" fill="#000"/>
<circle cx="1669.3" cy="1669.6" r="5.9" fill="#000"/>
<circle cx="1674.6" cy="1664.3" r="5.9" fill="#000"/>
<circle cx="1675.7" cy="1669.6" r="5.9" fill="#000"/>
<circle cx="1682.1" cy="1667.5" r="5.9" fill="#000"/>
<circle cx="1688.5" cy="1670.1" r="5.9" fill="#000"/>
<circle cx="1693.9" cy="1665.4" r="5.9" fill="#000"/>
<circle cx="1717.5" cy="1662.1" r="5.9" fill="#000"/>
<circle cx="1718.1" cy="1668.1" r="5.9" fill="#000"/>
<circle cx="1731.4" cy="1670.1" r="5.9" fill="#000"/>
<circle cx="1744.7" cy="1664.3" r="5.9" fill="#000"/>
<circle cx="1762.5" cy="1669.2" r="5.9" fill="#000"/>
<circle cx="1804.2" cy="1670.1" r="5.9" fill="#000"/>
<circle cx="1812.8" cy="1669.2" r="5.9" fill="#000"/>
<circle cx="1821.4" cy="1658.9" r="5.9" fill="#000"/>
<circle cx="1826.1" cy="1668.6" r="5.9" fill="#000"/>
<circle cx="1835.9" cy="1670.1" r="5.9" fill="#000"/>
<circle cx="1878.8" cy="1670.1" r="5.9" fill="#000"/>
<circle cx="1669.3" cy="1508.9" r="6.0" fill="#00B0F0"/>
<text x="355.90" y="1815.60" font-size="30" textLength="405.40" lengthAdjust="spacingAndGlyphs">DddA11 injected Blastocyst 2</text>
<line x1="156.50" y1="1872.60" x2="156.50" y2="2126.50" stroke="#000" stroke-width="4"/>
<line x1="148.10" y1="2118.30" x2="897.40" y2="2118.30" stroke="#000" stroke-width="4"/>
<text x="118.60" y="2127.70" font-size="26.4" textLength="14.00" lengthAdjust="spacingAndGlyphs">0</text>
<line x1="148.10" y1="2057.38" x2="156.50" y2="2057.38" stroke="#000" stroke-width="4"/>
<text x="103.00" y="2066.78" font-size="26.4" textLength="29.60" lengthAdjust="spacingAndGlyphs">20</text>
<line x1="148.10" y1="1996.45" x2="156.50" y2="1996.45" stroke="#000" stroke-width="4"/>
<text x="103.00" y="2005.85" font-size="26.4" textLength="29.60" lengthAdjust="spacingAndGlyphs">40</text>
<line x1="148.10" y1="1935.53" x2="156.50" y2="1935.53" stroke="#000" stroke-width="4"/>
<text x="103.00" y="1944.93" font-size="26.4" textLength="29.60" lengthAdjust="spacingAndGlyphs">60</text>
<line x1="148.10" y1="1874.60" x2="156.50" y2="1874.60" stroke="#000" stroke-width="4"/>
<text x="103.00" y="1884.00" font-size="26.4" textLength="29.60" lengthAdjust="spacingAndGlyphs">80</text>
<text x="150.10" y="2158.50" font-size="26.4" textLength="14.00" lengthAdjust="spacingAndGlyphs">0</text>
<line x1="388.00" y1="2118.30" x2="388.00" y2="2126.50" stroke="#000" stroke-width="4"/>
<text x="358.80" y="2158.50" font-size="26.4" textLength="59.60" lengthAdjust="spacingAndGlyphs">5000</text>
<line x1="618.90" y1="2118.30" x2="618.90" y2="2126.50" stroke="#000" stroke-width="4"/>
<text x="582.80" y="2158.50" font-size="26.4" textLength="73.40" lengthAdjust="spacingAndGlyphs">10000</text>
<line x1="850.70" y1="2118.30" x2="850.70" y2="2126.50" stroke="#000" stroke-width="4"/>
<text x="814.60" y="2158.50" font-size="26.4" textLength="73.40" lengthAdjust="spacingAndGlyphs">15000</text>
<text transform="translate(54.199999999999996,1985.0) rotate(-90)" font-size="30" text-anchor="middle" textLength="171.5" lengthAdjust="spacingAndGlyphs">C(G) to T(A)</text>
<text transform="translate(90.0,1985.0) rotate(-90)" font-size="30" text-anchor="middle" textLength="232.5" lengthAdjust="spacingAndGlyphs">substitutions (%)</text>
<circle cx="161.1" cy="2114.2" r="5.9" fill="#000"/>
<circle cx="220.4" cy="2117.2" r="5.9" fill="#000"/>
<circle cx="228.6" cy="2116.8" r="5.9" fill="#000"/>
<circle cx="252.1" cy="2117.8" r="5.9" fill="#000"/>
<circle cx="256.4" cy="2117.8" r="5.9" fill="#000"/>
<circle cx="266.5" cy="2116.3" r="5.9" fill="#000"/>
<circle cx="274.6" cy="2116.3" r="5.9" fill="#000"/>
<circle cx="285.3" cy="2113.6" r="5.9" fill="#000"/>
<circle cx="289.6" cy="2111.4" r="5.9" fill="#000"/>
<circle cx="291.1" cy="2117.2" r="5.9" fill="#000"/>
<circle cx="321.3" cy="2117.4" r="5.9" fill="#000"/>
<circle cx="331.4" cy="2117.0" r="5.9" fill="#000"/>
<circle cx="347.9" cy="2116.3" r="5.9" fill="#000"/>
<circle cx="408.5" cy="2116.3" r="5.9" fill="#000"/>
<circle cx="434.9" cy="2117.0" r="5.9" fill="#000"/>
<circle cx="473.4" cy="2117.4" r="5.9" fill="#000"/>
<circle cx="482.4" cy="2117.0" r="5.9" fill="#000"/>
<circle cx="486.7" cy="2117.4" r="5.9" fill="#000"/>
<circle cx="493.6" cy="2117.4" r="5.9" fill="#000"/>
<circle cx="503.9" cy="2116.8" r="5.9" fill="#000"/>
<circle cx="510.3" cy="2115.3" r="5.9" fill="#000"/>
<circle cx="528.5" cy="2115.7" r="5.9" fill="#000"/>
<circle cx="535.4" cy="2117.8" r="5.9" fill="#000"/>
<circle cx="567.5" cy="2117.2" r="5.9" fill="#000"/>
<circle cx="576.1" cy="2117.4" r="5.9" fill="#000"/>
<circle cx="589.6" cy="2116.1" r="5.9" fill="#000"/>
<circle cx="601.3" cy="2117.0" r="5.9" fill="#000"/>
<circle cx="626.4" cy="2110.4" r="5.9" fill="#000"/>
<circle cx="624.9" cy="2115.7" r="5.9" fill="#000"/>
<circle cx="633.9" cy="2112.5" r="5.9" fill="#000"/>
<circle cx="636.0" cy="2117.4" r="5.9" fill="#000"/>
<circle cx="651.0" cy="2115.7" r="5.9" fill="#000"/>
<circle cx="662.8" cy="2113.6" r="5.9" fill="#000"/>
<circle cx="666.0" cy="2117.4" r="5.9" fill="#000"/>
<circle cx="669.9" cy="2104.4" r="5.9" fill="#000"/>
<circle cx="671.4" cy="2111.4" r="5.9" fill="#000"/>
<circle cx="680.0" cy="2117.4" r="5.9" fill="#000"/>
<circle cx="681.7" cy="2111.9" r="5.9" fill="#000"/>
<circle cx="688.5" cy="2114.6" r="5.9" fill="#000"/>
<circle cx="693.9" cy="2117.4" r="5.9" fill="#000"/>
<circle cx="699.3" cy="2114.6" r="5.9" fill="#000"/>
<circle cx="713.2" cy="2117.2" r="5.9" fill="#000"/>
<circle cx="722.8" cy="2113.6" r="5.9" fill="#000"/>
<circle cx="737.2" cy="2116.3" r="5.9" fill="#000"/>
<circle cx="749.6" cy="2111.9" r="5.9" fill="#000"/>
<circle cx="809.6" cy="2117.2" r="5.9" fill="#000"/>
<circle cx="817.1" cy="2115.7" r="5.9" fill="#000"/>
<circle cx="825.7" cy="2109.3" r="5.9" fill="#000"/>
<circle cx="826.7" cy="2116.3" r="5.9" fill="#000"/>
<circle cx="831.0" cy="2115.7" r="5.9" fill="#000"/>
<circle cx="840.7" cy="2114.6" r="5.9" fill="#000"/>
<circle cx="852.4" cy="2116.3" r="5.9" fill="#000"/>
<circle cx="883.1" cy="2116.8" r="5.9" fill="#000"/>
<circle cx="674.1" cy="1875.8" r="6.0" fill="#00B0F0"/>
<text x="1358.60" y="1816.60" font-size="30" textLength="405.60" lengthAdjust="spacingAndGlyphs">DddA11 injected Blastocyst 3</text>
<line x1="1148.60" y1="1872.60" x2="1148.60" y2="2126.60" stroke="#000" stroke-width="4"/>
<line x1="1140.00" y1="2118.40" x2="1897.00" y2="2118.40" stroke="#000" stroke-width="4"/>
<text x="1110.50" y="2127.80" font-size="26.4" textLength="14.00" lengthAdjust="spacingAndGlyphs">0</text>
<line x1="1140.00" y1="2057.45" x2="1148.60" y2="2057.45" stroke="#000" stroke-width="4"/>
<text x="1094.90" y="2066.85" font-size="26.4" textLength="29.60" lengthAdjust="spacingAndGlyphs">20</text>
<line x1="1140.00" y1="1996.50" x2="1148.60" y2="1996.50" stroke="#000" stroke-width="4"/>
<text x="1094.90" y="2005.90" font-size="26.4" textLength="29.60" lengthAdjust="spacingAndGlyphs">40</text>
<line x1="1140.00" y1="1935.55" x2="1148.60" y2="1935.55" stroke="#000" stroke-width="4"/>
<text x="1094.90" y="1944.95" font-size="26.4" textLength="29.60" lengthAdjust="spacingAndGlyphs">60</text>
<line x1="1140.00" y1="1874.60" x2="1148.60" y2="1874.60" stroke="#000" stroke-width="4"/>
<text x="1094.90" y="1884.00" font-size="26.4" textLength="29.60" lengthAdjust="spacingAndGlyphs">80</text>
<text x="1142.20" y="2158.50" font-size="26.4" textLength="14.00" lengthAdjust="spacingAndGlyphs">0</text>
<line x1="1380.80" y1="2118.40" x2="1380.80" y2="2126.60" stroke="#000" stroke-width="4"/>
<text x="1351.60" y="2158.50" font-size="26.4" textLength="59.60" lengthAdjust="spacingAndGlyphs">5000</text>
<line x1="1613.60" y1="2118.40" x2="1613.60" y2="2126.60" stroke="#000" stroke-width="4"/>
<text x="1577.50" y="2158.50" font-size="26.4" textLength="73.40" lengthAdjust="spacingAndGlyphs">10000</text>
<line x1="1846.00" y1="2118.40" x2="1846.00" y2="2126.60" stroke="#000" stroke-width="4"/>
<text x="1809.90" y="2158.50" font-size="26.4" textLength="73.40" lengthAdjust="spacingAndGlyphs">15000</text>
<text transform="translate(1043.5,1985.0) rotate(-90)" font-size="30" text-anchor="middle" textLength="171.5" lengthAdjust="spacingAndGlyphs">C(G) to T(A)</text>
<text transform="translate(1079.8,1985.0) rotate(-90)" font-size="30" text-anchor="middle" textLength="232.5" lengthAdjust="spacingAndGlyphs">substitutions (%)</text>
<circle cx="1151.4" cy="2115.7" r="5.9" fill="#000"/>
<circle cx="1163.2" cy="2118.3" r="5.9" fill="#000"/>
<circle cx="1188.9" cy="2117.8" r="5.9" fill="#000"/>
<circle cx="1191.7" cy="2116.8" r="5.9" fill="#000"/>
<circle cx="1220.0" cy="2118.3" r="5.9" fill="#000"/>
<circle cx="1257.9" cy="2114.2" r="5.9" fill="#000"/>
<circle cx="1262.2" cy="2118.5" r="5.9" fill="#000"/>
<circle cx="1278.3" cy="2113.6" r="5.9" fill="#000"/>
<circle cx="1282.5" cy="2111.9" r="5.9" fill="#000"/>
<circle cx="1283.6" cy="2117.8" r="5.9" fill="#000"/>
<circle cx="1338.5" cy="2118.3" r="5.9" fill="#000"/>
<circle cx="1388.6" cy="2118.3" r="5.9" fill="#000"/>
<circle cx="1476.0" cy="2117.2" r="5.9" fill="#000"/>
<circle cx="1496.4" cy="2117.2" r="5.9" fill="#000"/>
<circle cx="1499.6" cy="2118.9" r="5.9" fill="#000"/>
<circle cx="1504.5" cy="2115.7" r="5.9" fill="#000"/>
<circle cx="1522.1" cy="2117.4" r="5.9" fill="#000"/>
<circle cx="1527.4" cy="2114.6" r="5.9" fill="#000"/>
<circle cx="1540.1" cy="2117.8" r="5.9" fill="#000"/>
<circle cx="1556.1" cy="2117.8" r="5.9" fill="#000"/>
<circle cx="1561.1" cy="2115.7" r="5.9" fill="#000"/>
<circle cx="1577.1" cy="2117.8" r="5.9" fill="#000"/>
<circle cx="1594.9" cy="2116.8" r="5.9" fill="#000"/>
<circle cx="1618.9" cy="2115.7" r="5.9" fill="#000"/>
<circle cx="1627.0" cy="2114.6" r="5.9" fill="#000"/>
<circle cx="1630.0" cy="2117.8" r="5.9" fill="#000"/>
<circle cx="1644.6" cy="2117.8" r="5.9" fill="#000"/>
<circle cx="1650.0" cy="2115.7" r="5.9" fill="#000"/>
<circle cx="1657.5" cy="2117.8" r="5.9" fill="#000"/>
<circle cx="1659.6" cy="2114.6" r="5.9" fill="#000"/>
<circle cx="1663.9" cy="2110.4" r="5.9" fill="#000"/>
<circle cx="1666.0" cy="2116.8" r="5.9" fill="#000"/>
<circle cx="1672.5" cy="2114.6" r="5.9" fill="#000"/>
<circle cx="1675.7" cy="2117.8" r="5.9" fill="#000"/>
<circle cx="1681.0" cy="2114.6" r="5.9" fill="#000"/>
<circle cx="1685.3" cy="2117.8" r="5.9" fill="#000"/>
<circle cx="1692.8" cy="2114.6" r="5.9" fill="#000"/>
<circle cx="1716.4" cy="2113.6" r="5.9" fill="#000"/>
<circle cx="1716.8" cy="2117.8" r="5.9" fill="#000"/>
<circle cx="1730.3" cy="2117.8" r="5.9" fill="#000"/>
<circle cx="1743.6" cy="2114.0" r="5.9" fill="#000"/>
<circle cx="1803.8" cy="2117.8" r="5.9" fill="#000"/>
<circle cx="1820.3" cy="2107.8" r="5.9" fill="#000"/>
<circle cx="1825.0" cy="2116.8" r="5.9" fill="#000"/>
<circle cx="1861.0" cy="2117.8" r="5.9" fill="#000"/>
<circle cx="1878.1" cy="2117.2" r="5.9" fill="#000"/>
<circle cx="1891.6" cy="2118.3" r="5.9" fill="#000"/>
<circle cx="1668.6" cy="1895.7" r="6.0" fill="#00B0F0"/>
</g>
</svg>
</body>
</html>
